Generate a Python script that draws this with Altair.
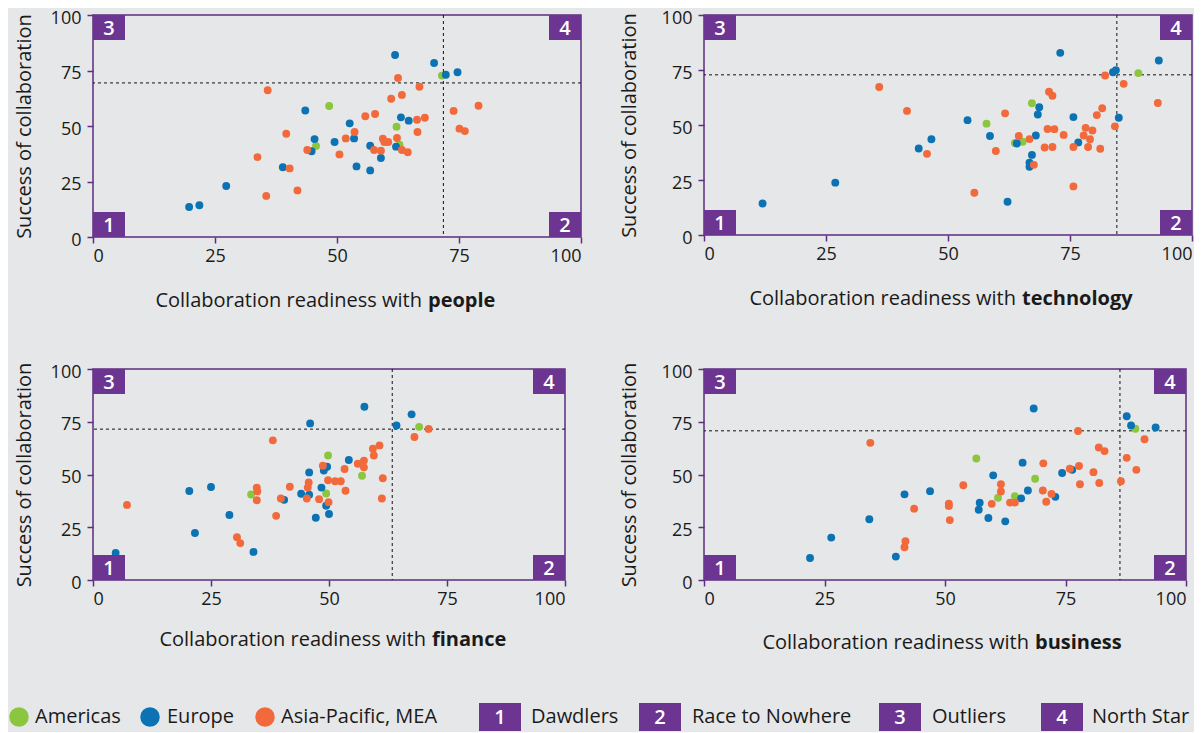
import altair as alt
import pandas as pd

# ---------------- categories / labels ----------------
REGIONS = ["Americas", "Europe", "Asia-Pacific, MEA"]
REGION_COLORS = ["#8cc63f", "#0b72b4", "#f26a3b"]
QUADRANT_NUMBERS = ["1", "2", "3", "4"]
QUADRANT_NAMES = ["Dawdlers", "Race to Nowhere", "Outliers", "North Star"]
TICKS = [0, 25, 50, 75, 100]
TOPICS = ["people", "technology", "finance", "business"]
Y_TITLE = "Success of collaboration"
X_TITLE = "Collaboration readiness with"

# quadrant thresholds (dotted lines) per panel
THRESH_X = [71.8, 84.6, 63.4, 86.3]
THRESH_Y = [69.4, 72.8, 71.5, 70.7]

# ---------------- panel 1: people ----------------
people_am_x = [48.4, 45.7, 71.5, 62.2, 62.8]
people_am_y = [59.0, 41.0, 72.7, 49.7, 41.6]
people_eu_x = [43.5, 52.6, 45.4, 44.8, 49.5, 38.9, 27.3, 19.7, 21.8, 61.9, 69.9, 72.3, 74.7,
               63.1, 64.7, 53.5, 56.8, 62.1, 59.0, 54.0, 56.8]
people_eu_y = [57.0, 51.2, 44.1, 38.6, 42.8, 31.4, 23.0, 13.5, 14.3, 82.0, 78.4, 73.1, 74.2,
               53.9, 52.4, 44.4, 41.1, 40.7, 35.6, 31.8, 30.0]
people_ap_x = [35.8, 39.6, 43.9, 51.8, 50.5, 33.7, 40.3, 35.5, 41.9, 62.5, 66.9, 63.3, 61.1,
               79.0, 73.9, 55.8, 57.8, 66.4, 68.0, 53.6, 66.5, 75.1, 76.2, 59.4, 59.7, 60.5,
               62.3, 57.6, 59.0, 63.3, 64.5]
people_ap_y = [66.1, 46.5, 39.2, 44.4, 37.2, 36.0, 30.9, 18.5, 21.0, 71.6, 67.7, 64.0, 62.3,
               59.1, 56.8, 54.4, 55.4, 52.8, 53.7, 47.3, 47.3, 48.8, 47.7, 44.3, 42.8, 42.8,
               44.6, 39.2, 38.9, 39.2, 38.2]

# ---------------- panel 2: technology ----------------
tech_am_x = [89.0, 67.2, 57.9, 63.7, 65.3]
tech_am_y = [73.6, 59.9, 50.6, 41.8, 42.4]
tech_eu_x = [46.6, 44.0, 26.9, 12.0, 73.0, 93.2, 83.8, 84.4, 68.7, 68.4, 54.0, 75.7, 85.0,
             58.6, 68.0, 64.1, 76.7, 67.2, 66.7, 66.7, 62.2]
tech_eu_y = [43.5, 39.3, 23.8, 14.3, 82.8, 79.3, 74.0, 74.9, 58.1, 54.8, 52.2, 53.6, 53.3,
             45.0, 45.2, 41.6, 42.1, 36.4, 32.9, 31.0, 15.1]
tech_ap_x = [35.9, 41.6, 45.7, 82.2, 86.0, 70.7, 71.4, 93.0, 61.7, 81.6, 80.5, 84.2, 70.4,
             71.8, 78.2, 79.6, 73.7, 77.8, 79.1, 64.5, 66.7, 59.8, 69.8, 71.4, 75.7, 78.7,
             81.2, 67.6, 75.7, 55.4]
tech_ap_y = [67.3, 56.4, 36.9, 72.5, 68.7, 65.1, 63.3, 60.0, 55.3, 57.6, 54.5, 49.4, 48.2,
             48.1, 48.7, 47.5, 45.5, 45.2, 43.5, 45.0, 43.6, 38.2, 39.8, 40.0, 40.0, 40.0,
             39.2, 31.9, 22.1, 19.2]

# ---------------- panel 3: finance ----------------
fin_am_x = [49.8, 33.5, 49.4, 69.1, 57.0]
fin_am_y = [59.0, 40.5, 41.0, 72.6, 49.4]
fin_eu_x = [46.0, 49.6, 48.9, 45.8, 48.4, 25.0, 20.4, 44.1, 45.8, 40.5, 49.4, 50.0, 47.2,
            28.9, 21.6, 34.0, 4.8, 57.5, 67.5, 64.3, 54.2]
fin_eu_y = [74.2, 53.7, 51.9, 51.0, 43.8, 44.1, 42.2, 40.9, 40.4, 38.0, 35.2, 31.3, 29.5,
            30.8, 22.3, 13.3, 12.8, 82.1, 78.5, 73.2, 56.9]
fin_ap_x = [38.1, 48.7, 49.8, 51.3, 52.5, 45.7, 45.5, 41.7, 34.7, 34.8, 34.7, 39.8, 45.3,
            47.9, 49.9, 38.8, 7.2, 30.5, 31.2, 71.1, 68.1, 60.7, 59.3, 59.5, 57.4, 56.1,
            57.4, 53.3, 61.4, 53.5, 61.2]
fin_ap_y = [66.2, 54.2, 47.3, 46.8, 46.8, 46.2, 43.8, 44.2, 43.8, 42.0, 37.8, 38.6, 38.6,
            38.3, 36.9, 30.4, 35.6, 20.3, 17.5, 71.6, 67.8, 63.8, 62.2, 59.0, 56.6, 55.1,
            53.4, 52.6, 48.2, 42.3, 38.6]

# ---------------- panel 4: business ----------------
bus_am_x = [89.5, 56.5, 68.7, 61.0, 64.5]
bus_am_y = [71.7, 57.6, 48.0, 39.0, 39.7]
bus_eu_x = [41.6, 46.9, 34.3, 26.4, 22.0, 39.8, 68.4, 87.7, 88.6, 93.7, 66.1, 60.0, 76.4,
            74.3, 67.2, 72.9, 65.8, 57.2, 57.0, 59.0, 62.5]
bus_eu_y = [40.6, 42.1, 28.8, 20.1, 10.4, 11.1, 81.3, 77.6, 73.2, 72.3, 55.6, 49.6, 52.2,
            50.7, 42.4, 39.4, 38.7, 36.6, 33.3, 29.4, 27.8]
bus_ap_x = [34.5, 43.6, 41.8, 41.6, 50.8, 50.8, 51.0, 77.6, 91.4, 81.9, 83.1, 87.7, 70.4,
            89.7, 75.9, 77.8, 80.8, 53.8, 61.6, 78.0, 82.0, 86.5, 61.6, 70.3, 72.1, 71.0,
            63.5, 64.5, 59.7]
bus_ap_y = [65.0, 33.8, 18.4, 15.5, 36.2, 35.0, 28.4, 70.6, 66.7, 62.8, 61.1, 57.9, 55.3,
            52.2, 52.7, 54.0, 51.1, 44.9, 45.4, 45.4, 46.0, 46.8, 42.0, 42.4, 40.8, 37.1,
            36.7, 36.7, 36.1]

# ---------------- styling ----------------
BG = "#e6e7e8"
PURPLE = "#6b3591"
LINE = "#5e2d80"
TEXT = "#1a1a1a"
FONT = "Open Sans"


def frame(groups):
    rows = []
    for xs, ys, reg in groups:
        for xv, yv in zip(xs, ys):
            rows.append({"x": xv, "y": yv, "region": reg})
    return pd.DataFrame(rows)


panel_data = [
    frame([(people_am_x, people_am_y, REGIONS[0]), (people_eu_x, people_eu_y, REGIONS[1]),
           (people_ap_x, people_ap_y, REGIONS[2])]),
    frame([(tech_am_x, tech_am_y, REGIONS[0]), (tech_eu_x, tech_eu_y, REGIONS[1]),
           (tech_ap_x, tech_ap_y, REGIONS[2])]),
    frame([(fin_am_x, fin_am_y, REGIONS[0]), (fin_eu_x, fin_eu_y, REGIONS[1]),
           (fin_ap_x, fin_ap_y, REGIONS[2])]),
    frame([(bus_am_x, bus_am_y, REGIONS[0]), (bus_eu_x, bus_eu_y, REGIONS[1]),
           (bus_ap_x, bus_ap_y, REGIONS[2])]),
]


def one_row(col, val):
    return pd.DataFrame({col: [val]})


def make_panel(i, w, h, ytitle_x, bold_x, xtitle_dy, extra=()):
    xs = alt.Scale(domain=[0, 100], nice=False, zero=False)
    ys = alt.Scale(domain=[0, 100], nice=False, zero=False)
    xaxis = alt.Axis(values=TICKS, title=None, tickSize=6, labelPadding=4, format="d")
    yaxis = alt.Axis(values=TICKS, title=Y_TITLE, titleX=ytitle_x, titleY=h / 2,
                     titleAngle=-90, titleAlign="center", titleBaseline="middle",
                     tickSize=6, labelPadding=6, labelOffset=3, format="d")
    pts = alt.Chart(panel_data[i]).mark_circle(size=62, opacity=1).encode(
        x=alt.X("x:Q", scale=xs, axis=xaxis),
        y=alt.Y("y:Q", scale=ys, axis=yaxis),
        color=alt.Color("region:N", scale=alt.Scale(domain=REGIONS, range=REGION_COLORS),
                        legend=None),
    )
    vline = alt.Chart(one_row("v", THRESH_X[i])).mark_rule(
        color="#111111", strokeDash=[3, 3], strokeWidth=1).encode(x=alt.X("v:Q", scale=xs))
    hline = alt.Chart(one_row("v", THRESH_Y[i])).mark_rule(
        color="#111111", strokeDash=[3, 3], strokeWidth=1).encode(y=alt.Y("v:Q", scale=ys))

    bw, bh = 32, 25
    corners = {"1": (0, h - bh), "2": (w - bw, h - bh), "3": (0, 0), "4": (w - bw, 0)}
    boxes = []
    for q in QUADRANT_NUMBERS:
        x0, y0 = corners[q]
        d = one_row("q", q)
        boxes.append(alt.Chart(d).mark_rect(color=PURPLE).encode(
            x=alt.value(x0), x2=alt.value(x0 + bw), y=alt.value(y0), y2=alt.value(y0 + bh)))
        boxes.append(alt.Chart(d).mark_text(color="white", font=FONT, fontSize=20,
                                            fontWeight=600, align="center",
                                            baseline="middle").encode(
            x=alt.value(x0 + bw / 2), y=alt.value(y0 + bh / 2 + 1), text="q:N"))

    t1 = alt.Chart(one_row("t", X_TITLE)).mark_text(
        font=FONT, fontSize=20, color=TEXT, align="right", baseline="middle").encode(
        x=alt.value(bold_x - 6), y=alt.value(h + xtitle_dy), text="t:N")
    t2 = alt.Chart(one_row("t", TOPICS[i])).mark_text(
        font=FONT, fontSize=20, fontWeight="bold", color=TEXT, align="left",
        baseline="middle").encode(
        x=alt.value(bold_x), y=alt.value(h + xtitle_dy), text="t:N")

    return alt.layer(hline, vline, pts, *boxes, t1, t2, *extra).properties(width=w, height=h)


# ---------------- legend (drawn under the finance panel) ----------------
P3_LEFT = 91
LEG_Y = 348
reg_sym_x = [17, 148, 263]
reg_lab_x = [33, 165, 279]
quad_box_x = [477, 637, 877, 1039]
quad_lab_x = [529, 690, 930, 1090]
legend_layers = []
for k, reg in enumerate(REGIONS):
    d = one_row("t", reg)
    legend_layers.append(alt.Chart(d).mark_circle(size=380, opacity=1, color=REGION_COLORS[k]).encode(
        x=alt.value(reg_sym_x[k] - P3_LEFT), y=alt.value(LEG_Y)))
    legend_layers.append(alt.Chart(d).mark_text(
        font=FONT, fontSize=20, color=TEXT, align="left", baseline="middle").encode(
        x=alt.value(reg_lab_x[k] - P3_LEFT), y=alt.value(LEG_Y), text="t:N"))
for k, q in enumerate(QUADRANT_NUMBERS):
    d = pd.DataFrame({"q": [q], "t": [QUADRANT_NAMES[k]]})
    bx = quad_box_x[k] - P3_LEFT
    legend_layers.append(alt.Chart(d).mark_rect(color=PURPLE).encode(
        x=alt.value(bx), x2=alt.value(bx + 42), y=alt.value(LEG_Y - 14), y2=alt.value(LEG_Y + 14)))
    legend_layers.append(alt.Chart(d).mark_text(
        font=FONT, fontSize=20, fontWeight=600, color="white", align="center",
        baseline="middle").encode(
        x=alt.value(bx + 21), y=alt.value(LEG_Y + 1), text="q:N"))
    legend_layers.append(alt.Chart(d).mark_text(
        font=FONT, fontSize=20, color=TEXT, align="left", baseline="middle").encode(
        x=alt.value(quad_lab_x[k] - P3_LEFT), y=alt.value(LEG_Y), text="t:N"))

p1 = make_panel(0, 488, 222, -69, 335, 64)
p2 = make_panel(1, 488, 220, -75, 318, 64)
p3 = make_panel(2, 472, 211, -69, 339, 60, legend_layers)
p4 = make_panel(3, 482, 211, -75, 331, 63)

chart = alt.concat(
    p1, p2, p3, p4, columns=2, spacing={"row": 132, "column": 123}, bounds="flush"
).properties(
    padding={"left": 0, "top": 0, "right": 0, "bottom": 0}, background=BG
).configure_view(
    stroke=LINE, strokeWidth=1.5, fill=BG
).configure_axis(
    domain=False, grid=False, tickColor=LINE, tickWidth=1.5,
    labelFont=FONT, labelFontSize=18, labelColor=TEXT,
    titleFont=FONT, titleFontSize=20, titleFontWeight="normal", titleColor=TEXT,
)

chart.save("out.html", embed_options={"renderer": "svg", "actions": False})
